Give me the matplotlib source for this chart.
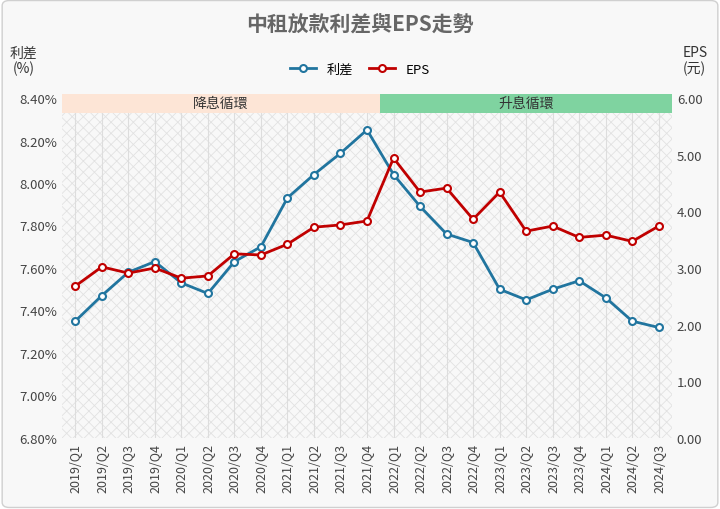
import matplotlib.pyplot as plt
from matplotlib.patches import Rectangle, FancyBboxPatch

plt.rcParams["font.family"] = "Noto Sans CJK TC"
plt.rcParams["hatch.linewidth"] = 0.6

quarters = [f"{y}/Q{q}" for y in range(2019, 2025) for q in range(1, 5)][:23]
spread = [7.35, 7.47, 7.58, 7.63, 7.53, 7.48, 7.63, 7.70, 7.93, 8.04, 8.14, 8.25,
          8.04, 7.89, 7.76, 7.72, 7.50, 7.45, 7.50, 7.54, 7.46, 7.35, 7.32]
eps = [2.68, 3.02, 2.91, 3.00, 2.82, 2.86, 3.25, 3.23, 3.42, 3.72, 3.76, 3.83,
       4.94, 4.34, 4.41, 3.86, 4.34, 3.65, 3.74, 3.54, 3.58, 3.47, 3.74]
cycles = [("降息循環", -0.5, 11.5, "#fde5d6"), ("升息循環", 11.5, 22.5, "#7fd3a0")]

BLUE = "#21759f"
RED = "#c00000"

fig = plt.figure(figsize=(7.2, 5.1), dpi=100)
fig.patch.set_facecolor("white")
fig.patches.append(FancyBboxPatch((0.003, 0.003), 0.994, 0.994, boxstyle="round,pad=0,rounding_size=0.01",
                                  transform=fig.transFigure, fc="#f8f8f8", ec="#d0d0d0", lw=1, zorder=-10))
ax = fig.add_axes([62 / 720, 1 - 439 / 510, 610 / 720, 340 / 510])
ax.set_facecolor("#f8f8f8")
ax.add_patch(Rectangle((-0.5, 6.8), 23, 1.6, fc="none", ec="#e2e2e2", hatch="xxx", lw=0, zorder=0))
x = range(len(quarters))
ax.plot(x, spread, "-o", color=BLUE, lw=2, ms=5, mfc="white", mec=BLUE, mew=1.5, label="利差", zorder=3)
ax.set_xlim(-0.5, 22.5)
ax.set_ylim(6.8, 8.4)
ax.set_yticks([6.8 + 0.2 * i for i in range(9)])
ax.set_yticklabels([f"{6.8 + 0.2 * i:.2f}%" for i in range(9)])
ax.set_xticks(list(x))
ax.set_xticklabels(quarters, rotation=90, fontsize=9, color="#444444")
ax.tick_params(axis="y", labelsize=9.5, colors="#444444", length=0)
ax.tick_params(axis="x", length=0)
for s in ax.spines.values():
    s.set_visible(False)
ax.grid(axis="x", color="#dddddd", lw=0.8)

ax2 = ax.twinx()
ax2.plot(x, eps, "-o", color=RED, lw=2, ms=5, mfc="white", mec=RED, mew=1.5, label="EPS", zorder=3)
ax2.set_ylim(0, 6)
ax2.set_yticks(range(7))
ax2.set_yticklabels([f"{v:.2f}" for v in range(7)])
ax2.tick_params(axis="y", labelsize=9.5, colors="#444444", length=0)
for s in ax2.spines.values():
    s.set_visible(False)

for label, x0, x1, c in cycles:
    ax.add_patch(Rectangle((x0, 8.33), x1 - x0, 0.09, fc=c, ec="none", clip_on=False, zorder=4))
    ax.text((x0 + x1) / 2, 8.375, label, ha="center", va="center", fontsize=10, color="#333333", zorder=5)

fig.text(0.5, 0.94, "中租放款利差與EPS走勢", ha="center", fontsize=15, color="#666666", weight="bold")
fig.text(0.033, 0.88, "利差\n(%)", ha="center", va="center", fontsize=10, color="#333333", linespacing=1.1)
fig.text(0.965, 0.88, "EPS\n(元)", ha="center", va="center", fontsize=10, color="#333333", linespacing=1.1)
h1, l1 = ax.get_legend_handles_labels()
h2, l2 = ax2.get_legend_handles_labels()
fig.legend(h1 + h2, l1 + l2, loc="center", bbox_to_anchor=(0.5, 0.862), ncol=2, frameon=False,
           fontsize=9.5, handlelength=2, columnspacing=1.2)
fig.savefig("out.png", dpi=100)
